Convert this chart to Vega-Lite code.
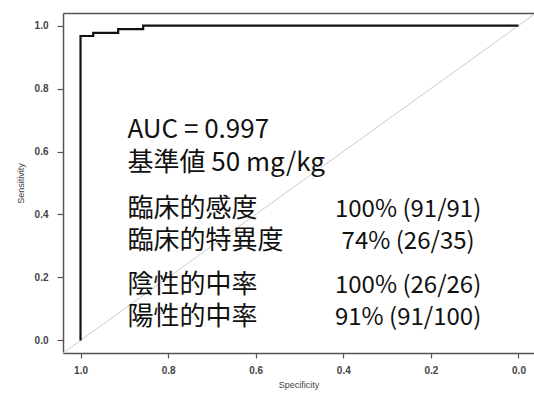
{
  "$schema": "https://vega.github.io/schema/vega-lite/v6.json",
  "width": 471,
  "height": 340,
  "autosize": {"type": "none"},
  "padding": {"left": 63, "top": 13, "right": 0, "bottom": 41},
  "background": "white",
  "config": {
    "view": {"stroke": null},
    "axis": {
      "grid": false,
      "domain": true,
      "domainColor": "#555555",
      "domainWidth": 1.5,
      "tickColor": "#555555",
      "tickWidth": 1.2,
      "labelFont": "Liberation Sans",
      "labelFontSize": 10,
      "labelFontWeight": "bold",
      "labelColor": "#444444",
      "titleFont": "Liberation Sans",
      "titleFontSize": 9,
      "titleFontWeight": "normal",
      "titleColor": "#444444"
    }
  },
  "datasets": {
    "diag": [
      {"spec": 1.04, "sens": -0.04},
      {"spec": -0.04, "sens": 1.04}
    ],
    "roc": [
      {"step": 1, "spec": 1.0, "sens": 0.0},
      {"step": 2, "spec": 1.0, "sens": 0.967},
      {"step": 3, "spec": 0.971, "sens": 0.967},
      {"step": 4, "spec": 0.971, "sens": 0.977},
      {"step": 5, "spec": 0.914, "sens": 0.977},
      {"step": 6, "spec": 0.914, "sens": 0.989},
      {"step": 7, "spec": 0.857, "sens": 0.989},
      {"step": 8, "spec": 0.857, "sens": 1.0},
      {"step": 9, "spec": 0.0, "sens": 1.0}
    ],
    "leftText": [
      {"spec": 0.893, "sens": 0.643, "label": "AUC = 0.997"},
      {"spec": 0.893, "sens": 0.538, "label": "基準値 50 mg/kg"},
      {"spec": 0.893, "sens": 0.392, "label": "臨床的感度"},
      {"spec": 0.893, "sens": 0.290, "label": "臨床的特異度"},
      {"spec": 0.893, "sens": 0.151, "label": "陰性的中率"},
      {"spec": 0.893, "sens": 0.049, "label": "陽性的中率"}
    ],
    "rightText": [
      {"spec": 0.252, "sens": 0.392, "label": "100% (91/91)"},
      {"spec": 0.252, "sens": 0.290, "label": "74% (26/35)"},
      {"spec": 0.252, "sens": 0.151, "label": "100% (26/26)"},
      {"spec": 0.252, "sens": 0.049, "label": "91% (91/100)"}
    ]
  },
  "layer": [
    {
      "data": {"name": "diag"},
      "mark": {"type": "line", "color": "#cccccc", "strokeWidth": 1, "clip": true},
      "encoding": {
        "x": {
          "field": "spec", "type": "quantitative",
          "scale": {"domain": [-0.0354, 1.04], "reverse": true, "nice": false, "zero": false},
          "axis": {"orient": "bottom", "values": [0, 0.2, 0.4, 0.6, 0.8, 1.0], "format": ".1f", "tickSize": 5, "labelPadding": 7, "title": "Specificity", "titlePadding": 5}
        },
        "y": {
          "field": "sens", "type": "quantitative",
          "scale": {"domain": [-0.04, 1.04], "nice": false, "zero": false},
          "axis": {"values": [0, 0.2, 0.4, 0.6, 0.8, 1.0], "format": ".1f", "tickSize": 6, "labelPadding": 9, "labelAngle": 0, "title": "Sensitivity", "titlePadding": 9}
        },
        "order": {"field": "spec", "type": "quantitative"}
      }
    },
    {
      "data": {"name": "roc"},
      "mark": {"type": "line", "color": "#111111", "strokeWidth": 2.2},
      "encoding": {
        "x": {"field": "spec", "type": "quantitative", "axis": null},
        "y": {"field": "sens", "type": "quantitative"},
        "order": {"field": "step", "type": "quantitative"}
      }
    },
    {
      "data": {"name": "leftText"},
      "mark": {"type": "text", "align": "left", "baseline": "alphabetic", "font": "Noto Sans CJK JP", "fontSize": 26, "color": "#111111"},
      "encoding": {
        "x": {"field": "spec", "type": "quantitative", "axis": {"orient": "top", "labels": false, "ticks": false, "title": null, "domain": true}},
        "y": {"field": "sens", "type": "quantitative"},
        "text": {"field": "label"}
      }
    },
    {
      "data": {"name": "rightText"},
      "mark": {"type": "text", "align": "center", "baseline": "alphabetic", "font": "Noto Sans CJK JP", "fontSize": 24, "color": "#111111"},
      "encoding": {
        "x": {"field": "spec", "type": "quantitative", "axis": null},
        "y": {"field": "sens", "type": "quantitative"},
        "text": {"field": "label"}
      }
    }
  ],
  "resolve": {"axis": {"x": "independent"}}
}
